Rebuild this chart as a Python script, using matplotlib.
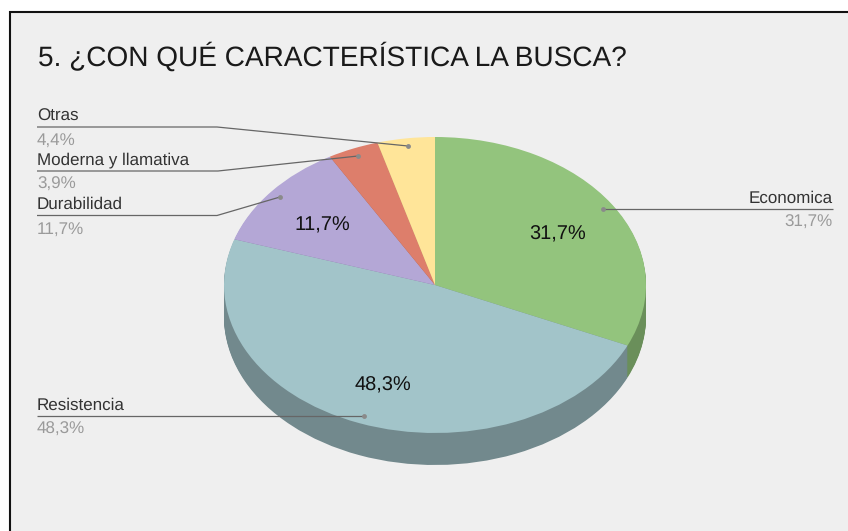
import matplotlib
matplotlib.use('Agg')
import matplotlib.pyplot as plt
from matplotlib.patches import Rectangle

plt.rcParams['font.family'] = ['Liberation Sans', 'DejaVu Sans']
plt.rcParams['text.hinting'] = 'no_hinting'
plt.rcParams['text.hinting_factor'] = 1

# Data
categories = ['Economica', 'Resistencia', 'Durabilidad', 'Moderna y llamativa', 'Otras']
values = [31.7, 48.3, 11.7, 3.9, 4.4]
top_colors = ['#93c47d', '#a2c4c9', '#b4a7d6', '#dd7e6b', '#ffe599']
side_colors = ['#6a8f5a', '#72898d', '#8277a0', '#a05b4d', '#b8a56e']


def fmt(v):
    return f'{v:.1f}'.replace('.', ',') + '%'


W, H = 848, 531
fig = plt.figure(figsize=(W / 100, H / 100), dpi=100, facecolor='white')

# panel and text live on a pixel-coordinate axes
bg = fig.add_axes([0, 0, 1, 1])
bg.set_xlim(0, W)
bg.set_ylim(H, 0)
bg.axis('off')
bg.add_patch(Rectangle((10, 12), W, H, facecolor='#efefef', edgecolor='#111111', linewidth=1.5))
bg.text(38, 57, '5. ¿CON QUÉ CARACTERÍSTICA LA BUSCA?', fontsize=20.3, color='#1a1a1a',
        ha='left', va='center')

# pie axes squashed so the circle turns into the tilted ellipse
cx, cy, rx, ry, depth = 435, 285, 211, 148, 32
ax = fig.add_axes([0, 0, 1, 1])
ax.patch.set_alpha(0)

# the rim is a stack of darker pies
for k in range(depth, 0, -1):
    ax.pie(values, colors=side_colors, startangle=90, counterclock=False, radius=1,
           center=(0, -k / ry), wedgeprops={'linewidth': 0})
wedges, texts, autotexts = ax.pie(
    values, colors=top_colors, startangle=90, counterclock=False, radius=1,
    wedgeprops={'linewidth': 0}, pctdistance=0.69,
    autopct=lambda p: fmt(p) if p > 5 else '',
    textprops={'fontsize': 14.5, 'color': '#111111'})
for t in autotexts:
    x, y = t.get_position()
    t.set_position((x, y - 4.5 / ry))
ax.set_aspect('auto')
ax.set_xlim(-cx / rx, (W - cx) / rx)
ax.set_ylim((cy - H) / ry, cy / ry)
ax.axis('off')

# leader lines on top of the pie
ov = fig.add_axes([0, 0, 1, 1])
ov.patch.set_alpha(0)
ov.set_xlim(0, W)
ov.set_ylim(H, 0)
ov.axis('off')

leaders = {
    'Economica': ([833, 603], [209, 209]),
    'Resistencia': ([37, 364], [416, 416]),
    'Durabilidad': ([37, 217, 280], [215.5, 215.5, 197]),
    'Moderna y llamativa': ([37, 218, 358], [171, 171, 156]),
    'Otras': ([37, 217, 408], [127, 127, 146]),
}
for name, v in zip(categories, values):
    xs, ys = leaders[name]
    ov.plot(xs, ys, color='#666666', linewidth=0.9, solid_capstyle='butt')
    ov.plot(xs[-1], ys[-1], 'o', color='#8a8a8a', markersize=3.5, markeredgewidth=0)
    line_y = ys[0]
    ha = 'right' if xs[0] > cx else 'left'
    ov.text(xs[0], line_y - 3, name, fontsize=12.4, color='#333333', ha=ha, va='bottom')
    ov.text(xs[0], line_y + 6, fmt(v), fontsize=12.4, color='#9a9a9a', ha=ha, va='top')

fig.savefig('out.png', dpi=100, facecolor='white')
